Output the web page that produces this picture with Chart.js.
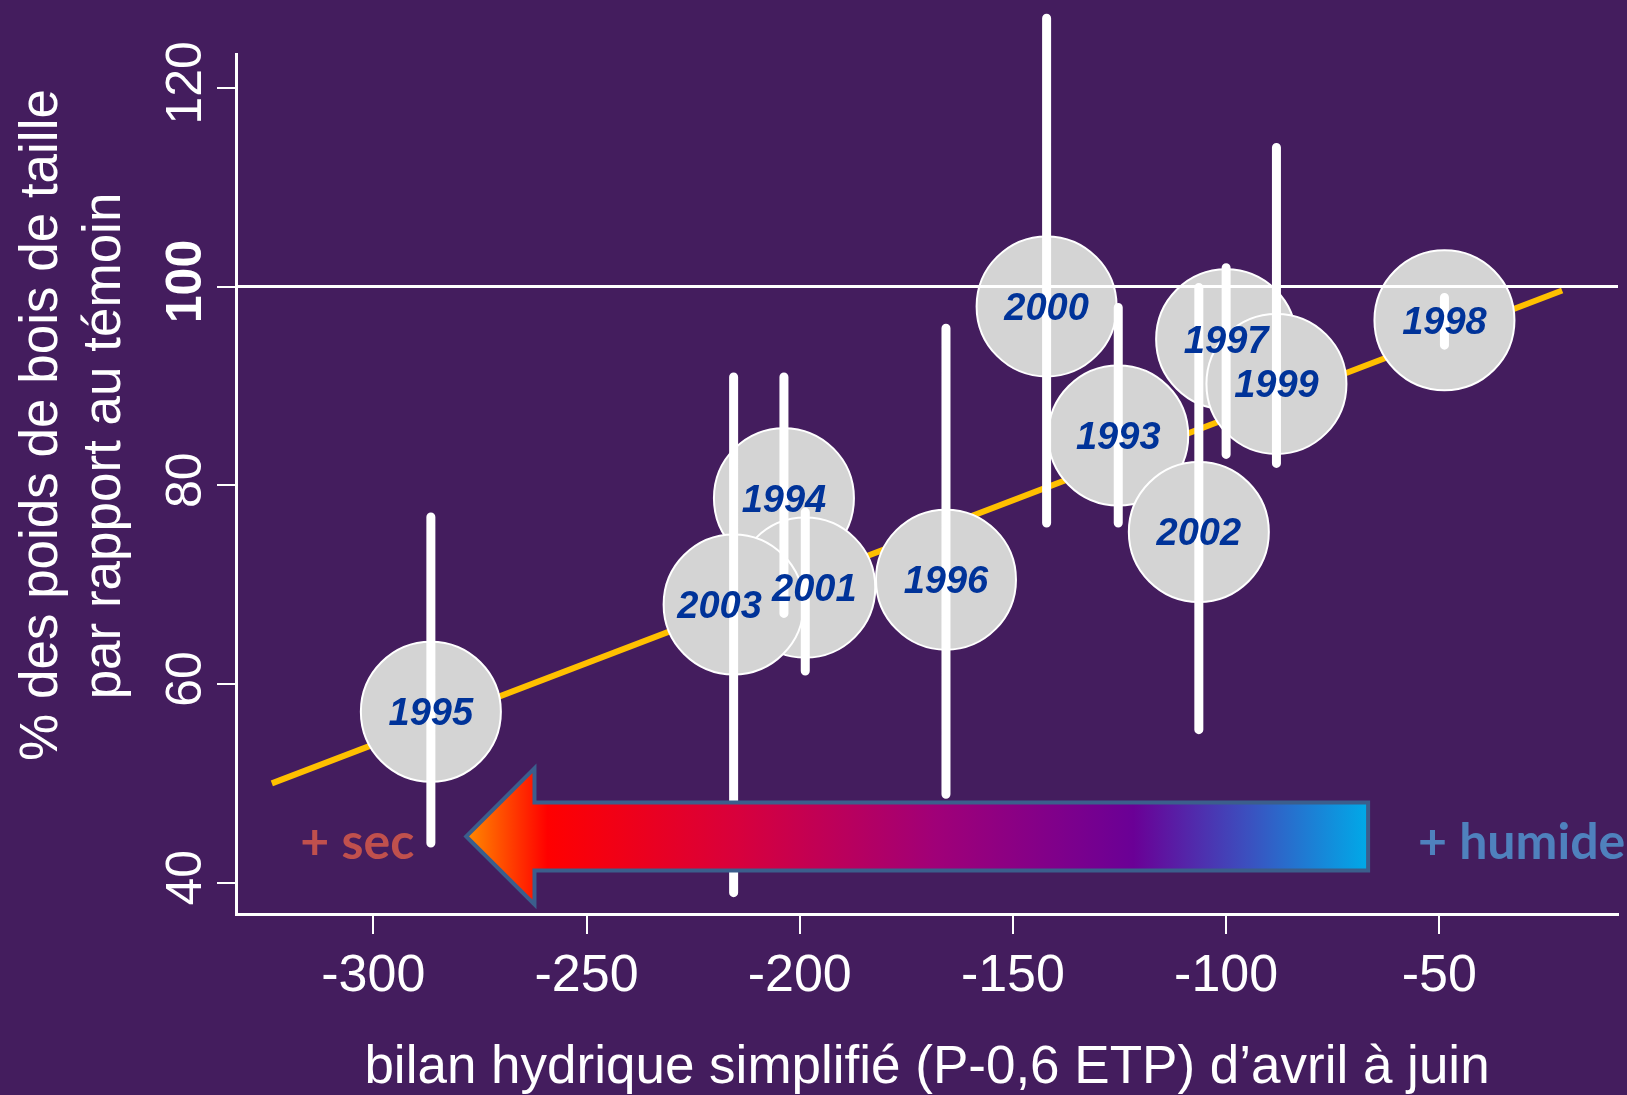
<!DOCTYPE html>
<html lang="fr">
<head>
<meta charset="utf-8">
<title>Bilan hydrique et poids de bois de taille</title>
<script src="https://cdn.jsdelivr.net/npm/chart.js@4.4.1/dist/chart.umd.min.js"></script>
<style>
  html, body { margin: 0; padding: 0; background: #441d5e; }
  #wrap { width: 1627px; height: 1095px; position: relative; }
</style>
</head>
<body>
<div id="wrap"><canvas id="myChart"></canvas></div>
<script>
// années (ordre = ordre de superposition des disques)
var annees = ["1995", "1994", "2001", "2003", "1996", "2000", "1993", "2002", "1997", "1999", "1998"];
var bilan = [-286.5, -203.7, -198.7, -215.5, -165.7, -142.1, -125.3, -106.4, -100.0, -88.2, -48.8];
var poids = [57.2, 78.7, 69.7, 68.0, 70.5, 98.0, 85.0, 75.3, 94.7, 90.2, 96.6];
var errHaut = [76.8, 90.9, 77.3, 90.9, 95.8, 127.0, 97.9, 99.9, 101.9, 114.0, 98.9];
var errBas = [44.0, 67.1, 61.3, 39.0, 48.9, 76.2, 76.2, 55.4, 83.1, 82.2, 94.1];

// droite de régression (extrémités)
var tendanceX = [-323.8, -21.2];
var tendanceY = [50.0, 99.6];

var xTicks = [-300, -250, -200, -150, -100, -50];
var yTicks = [40, 60, 80, 100, 120];
var xMin = -332.2, xMax = -8.1;
var yMin = 36.85, yMax = 123.4;
var reference = 100;

var titreX = "bilan hydrique simplifié (P-0,6 ETP) d’avril à juin";
var titreY = ["% des poids de bois de taille", "par rapport au témoin"];

var police = "'Liberation Sans', Arial, sans-serif";

var points = [];
var barres = [];
for (var i = 0; i < annees.length; i++) {
  points.push({ x: bilan[i], y: poids[i] });
  barres.push({ x: bilan[i], y: errBas[i] });
  barres.push({ x: bilan[i], y: errHaut[i] });
  barres.push({ x: bilan[i], y: null });
}
var tendance = [];
for (var j = 0; j < tendanceX.length; j++) {
  tendance.push({ x: tendanceX[j], y: tendanceY[j] });
}
var ligne100 = [{ x: xMin, y: reference }, { x: xMax, y: reference }];

// étiquettes dans les disques, flèche, titre vertical
var decor = {
  id: "decor",
  afterDatasetsDraw: function (chart, args, opts) {
    var ctx = chart.ctx;
    var xs = chart.scales.x;
    var ys = chart.scales.y;

    // années
    var meta = chart.getDatasetMeta(1);
    ctx.save();
    ctx.font = "italic bold 38px " + police;
    ctx.fillStyle = "#003399";
    ctx.textAlign = "center";
    ctx.textBaseline = "middle";
    meta.data.forEach(function (el, k) {
      var dx = opts.decalage[annees[k]] || 0;
      ctx.fillText(annees[k], el.x + dx, el.y + 3);
    });
    ctx.restore();

    // flèche sec -> humide
    var f = opts.fleche;
    var xp = xs.getPixelForValue(f.pointe);
    var xc = xs.getPixelForValue(f.col);
    var xq = xs.getPixelForValue(f.queue);
    var yc = ys.getPixelForValue(f.y);
    var grad = ctx.createLinearGradient(xp, 0, xq, 0);
    grad.addColorStop(0, "#ff8a00");
    grad.addColorStop(0.09, "#ff0000");
    grad.addColorStop(0.3, "#d8003c");
    grad.addColorStop(0.52, "#a00078");
    grad.addColorStop(0.74, "#6a0096");
    grad.addColorStop(0.87, "#3a52c0");
    grad.addColorStop(1, "#00aae8");
    ctx.save();
    ctx.beginPath();
    ctx.moveTo(xp, yc);
    ctx.lineTo(xc, yc - 68);
    ctx.lineTo(xc, yc - 34);
    ctx.lineTo(xq, yc - 34);
    ctx.lineTo(xq, yc + 34);
    ctx.lineTo(xc, yc + 34);
    ctx.lineTo(xc, yc + 68);
    ctx.closePath();
    ctx.fillStyle = grad;
    ctx.fill();
    ctx.lineWidth = 4;
    ctx.strokeStyle = "#3b5e8c";
    ctx.stroke();

    ctx.font = "bold 50px Lato, 'Open Sans', sans-serif";
    ctx.textBaseline = "alphabetic";
    ctx.textAlign = "right";
    ctx.fillStyle = "#c0504d";
    ctx.fillText("+ sec", xs.getPixelForValue(f.texteSec), ys.getPixelForValue(f.texteY));
    ctx.textAlign = "left";
    ctx.fillStyle = "#4f81bd";
    ctx.fillText("+ humide", xs.getPixelForValue(f.texteHumide), ys.getPixelForValue(f.texteY));
    ctx.restore();

    // titre de l'axe vertical
    ctx.save();
    ctx.font = "53px " + police;
    ctx.fillStyle = "#ffffff";
    ctx.textAlign = "center";
    ctx.textBaseline = "alphabetic";
    ctx.translate(57, 425);
    ctx.rotate(-Math.PI / 2);
    ctx.fillText(titreY[0], 0, 0);
    ctx.restore();
    ctx.save();
    ctx.font = "53px " + police;
    ctx.fillStyle = "#ffffff";
    ctx.textAlign = "center";
    ctx.textBaseline = "alphabetic";
    ctx.translate(120, 446);
    ctx.rotate(-Math.PI / 2);
    ctx.fillText(titreY[1], 0, 0);
    ctx.restore();
  }
};

var ctx = document.getElementById("myChart");
var data = {
  datasets: [
    {
      data: tendance,
      showLine: true,
      borderColor: "#ffc000",
      borderWidth: 6,
      pointRadius: 0,
      order: 4
    },
    {
      data: points,
      backgroundColor: "#d4d4d4",
      borderColor: "#ffffff",
      borderWidth: 2,
      pointRadius: 70,
      pointHoverRadius: 70,
      order: 3
    },
    {
      data: ligne100,
      showLine: true,
      borderColor: "#ffffff",
      borderWidth: 3,
      pointRadius: 0,
      order: 2
    },
    {
      data: barres,
      showLine: true,
      spanGaps: false,
      borderColor: "#ffffff",
      borderWidth: 9,
      borderCapStyle: "round",
      pointRadius: 0,
      clip: false,
      order: 1
    }
  ]
};

var config = {
  type: "scatter",
  data,
  plugins: [decor],
  options: {
    responsive: true,
    maintainAspectRatio: false,
    animation: false,
    events: [],
    layout: { autoPadding: false, padding: { top: 54, right: 9, left: 0, bottom: 0 } },
    plugins: {
      legend: { display: false },
      tooltip: { enabled: false },
      decor: {
        decalage: { "2003": -14, "2001": 9 },
        fleche: { pointe: -278.2, col: -262.2, queue: -66.7, y: 44.66, texteSec: -290.4, texteHumide: -55.0, texteY: 42.4 }
      }
    },
    scales: {
      x: {
        type: "linear",
        min: xMin,
        max: xMax,
        afterBuildTicks: function (scale) {
          scale.ticks = xTicks.map(function (v) { return { value: v }; });
        },
        afterFit: function (scale) { scale.height = 181; },
        grid: { drawOnChartArea: false, color: "#ffffff", lineWidth: 2, tickLength: 20 },
        border: { display: true, color: "#ffffff", width: 3 },
        ticks: {
          color: "#ffffff",
          font: { family: police, size: 52 },
          padding: 11,
          maxRotation: 0,
          callback: function (v) { return String(v); }
        },
        title: {
          display: true,
          text: titreX,
          color: "#ffffff",
          font: { family: police, size: 53, lineHeight: 1.0 },
          padding: { top: 0, bottom: 0 }
        }
      },
      y: {
        type: "linear",
        min: yMin,
        max: yMax,
        afterBuildTicks: function (scale) {
          scale.ticks = yTicks.map(function (v) { return { value: v }; });
        },
        afterFit: function (scale) { scale.width = 236; },
        grid: { drawOnChartArea: false, color: "#ffffff", lineWidth: 2, tickLength: 19 },
        border: { display: true, color: "#ffffff", width: 3 },
        ticks: {
          color: "#ffffff",
          minRotation: 90,
          maxRotation: 90,
          crossAlign: "center",
          padding: -12,
          labelOffset: -5,
          font: function (c) {
            var gras = c.tick && c.tick.value === reference;
            return { family: police, size: 50, weight: gras ? "bold" : "normal" };
          },
          callback: function (v) { return String(v); }
        }
      }
    }
  }
};

var myChart = new Chart(ctx, config);
</script>
</body>
</html>
